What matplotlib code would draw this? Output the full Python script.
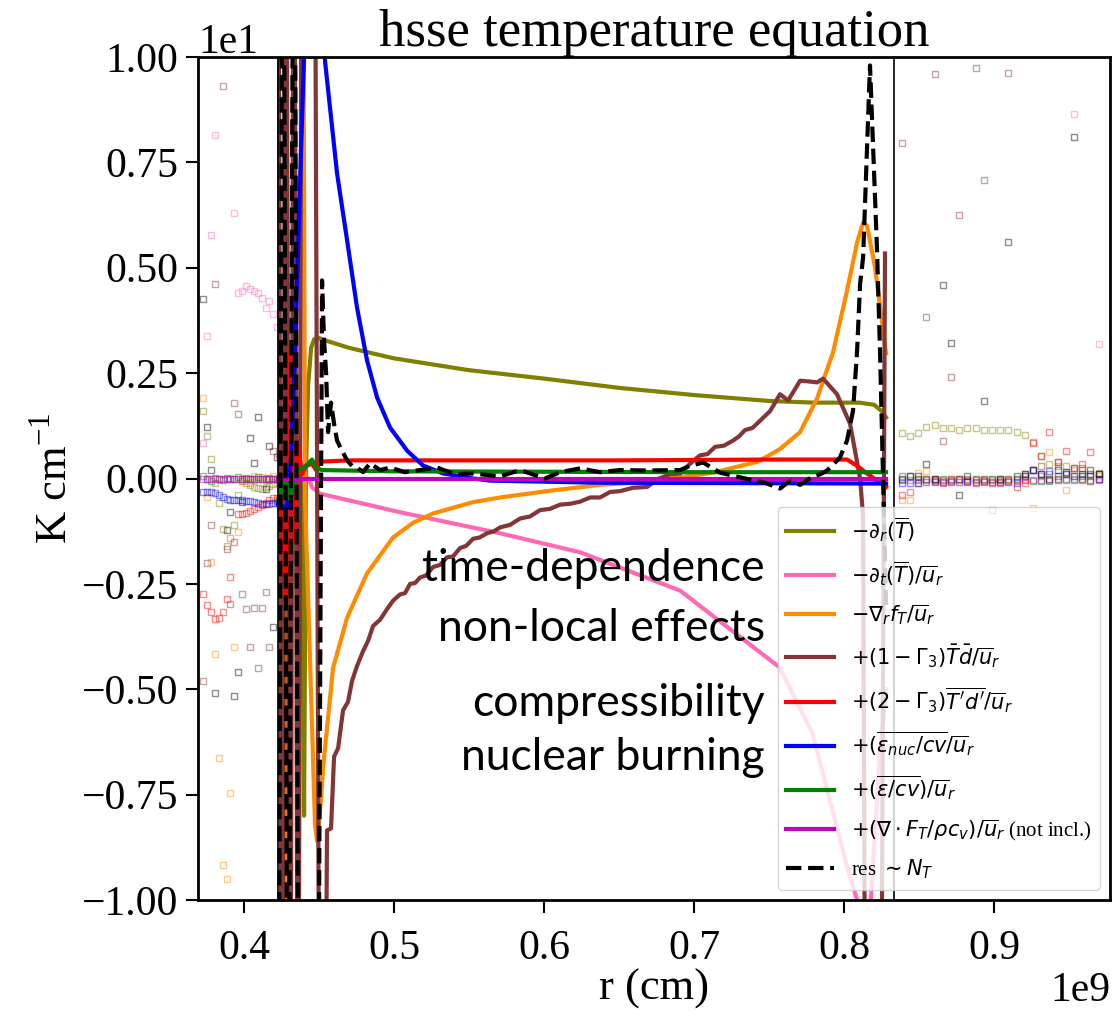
import matplotlib
matplotlib.use("Agg")
import matplotlib.pyplot as plt
import numpy as np

plt.rcParams["font.family"] = ["Liberation Serif", "DejaVu Serif"]
plt.rcParams["mathtext.fontset"] = "dejavusans"

# radius in units of 1e9 cm, terms in K/cm
# ---- lines inside the convection zone ----
olive_r = [0.4227, 0.4387, 0.44, 0.4413, 0.4427, 0.4447, 0.4467, 0.449, 0.452, 0.47, 0.5,
           0.55, 0.6, 0.65, 0.7, 0.75, 0.78, 0.81, 0.82, 0.825, 0.828]
olive_v = [0.0, 0.0, -8.0, 0.2, 2.2, 3.1, 3.3, 3.35, 3.3, 3.1, 2.85,
           2.57, 2.37, 2.15, 1.98, 1.84, 1.8, 1.8, 1.75, 1.6, 1.45]

pink_r = [0.4227, 0.4267, 0.4293, 0.4333, 0.4373, 0.4433, 0.4453, 0.4507, 0.504, 0.5707,
          0.624, 0.6907, 0.757, 0.779, 0.802, 0.8087, 0.8127, 0.8173, 0.824, 0.828]
pink_v = [0.5, 0.0, -20, -20, 0.0, 0.0, -0.21, -0.36, -0.8, -1.3,
          -1.75, -2.66, -4.48, -6.05, -9.2, -10.0, -11.0, -10.3, -6.5, -5.0]

orange_r = [0.4227, 0.4267, 0.4293, 0.4387, 0.4407, 0.4473, 0.4487, 0.4513, 0.4527, 0.4593,
            0.4687, 0.482, 0.4993, 0.5127, 0.526, 0.5527, 0.5707, 0.604, 0.6373, 0.6687,
            0.7127, 0.7427, 0.7573, 0.7707, 0.782, 0.7927, 0.802, 0.8087, 0.8127, 0.8153,
            0.8207, 0.828]
orange_v = [-20, -20, 20, 20, -0.5, -8.2, -8.6, -7.6, -6.85, -4.5,
            -3.3, -2.25, -1.4, -1.05, -0.83, -0.56, -0.45, -0.29, -0.15, -0.08,
            0.14, 0.4, 0.7, 1.1, 1.9, 3.0, 4.46, 5.6, 6.07, 6.0,
            5.0, 2.97]

brown_r = [0.4227, 0.4253, 0.428, 0.4307, 0.4333, 0.436, 0.4387, 0.4413, 0.4467, 0.4507,
           0.4533, 0.4553, 0.458, 0.46, 0.4627, 0.466, 0.4693, 0.472, 0.4753, 0.4793,
           0.4827, 0.486, 0.4907, 0.4953, 0.4993, 0.504, 0.5073, 0.5107, 0.514, 0.5173,
           0.5213, 0.526, 0.5307, 0.5353, 0.5393, 0.544, 0.548, 0.5527, 0.557, 0.562,
           0.5667, 0.5707, 0.5773, 0.584, 0.5907, 0.5973, 0.604, 0.6107, 0.6173, 0.624,
           0.6307, 0.6373, 0.644, 0.6507, 0.6593, 0.6687, 0.6767, 0.684, 0.6907, 0.6973,
           0.704, 0.709, 0.714, 0.72, 0.726, 0.73, 0.734, 0.739, 0.744, 0.7507,
           0.7573, 0.7627, 0.7707, 0.7773, 0.782, 0.786, 0.7953, 0.804, 0.8107, 0.8127,
           0.8147, 0.824, 0.8273]
brown_v = [20, -20, 20, -20, 20, -20, 20, 20, 20, -20,
           -20, -8.35, -8.3, -6.6, -6.4, -5.5, -5.3, -4.8, -4.45, -4.1,
           -3.85, -3.5, -3.35, -3.1, -2.9, -2.75, -2.72, -2.5, -2.48, -2.35,
           -2.3, -2.1, -2.05, -1.87, -1.85, -1.65, -1.6, -1.43, -1.4, -1.3,
           -1.25, -1.16, -1.1, -0.95, -0.9, -0.75, -0.72, -0.62, -0.6, -0.55,
           -0.45, -0.45, -0.32, -0.3, -0.22, -0.2, 0.0, 0.1, 0.12, 0.35,
           0.55, 0.58, 0.75, 0.78, 0.9, 1.0, 1.15, 1.2, 1.37, 1.6,
           2.0, 1.85, 2.32, 2.3, 2.28, 2.37, 2.0, 1.3, 0.0, -0.9,
           -20, -20, 5.34]

red_r = [0.4227, 0.4253, 0.428, 0.4307, 0.4333, 0.436, 0.4387, 0.4413, 0.4453, 0.448,
         0.4507, 0.47, 0.55, 0.65, 0.75, 0.802, 0.8087, 0.8153, 0.822, 0.828]
red_v = [-0.6, -1.0, -3.0, 3.0, -1.5, 0.8, 0.1, 0.3, 0.35, 0.2,
         0.4, 0.43, 0.43, 0.43, 0.45, 0.45, 0.3, 0.12, -0.05, -0.2]

blue_r = [0.4227, 0.4253, 0.4287, 0.4313, 0.434, 0.4373, 0.44, 0.4453, 0.4507, 0.454,
          0.4573, 0.462, 0.4687, 0.4753, 0.482, 0.4887, 0.4973, 0.5087, 0.5193, 0.5327,
          0.5527, 0.564, 0.637, 0.828]
blue_v = [-0.6, -0.65, -0.7, 0.5, 3.0, 7.0, 10.0, 14.0, 12.5, 9.9,
          8.8, 7.24, 5.65, 4.06, 2.8, 1.92, 1.21, 0.66, 0.31, 0.12,
          0.0, -0.05, -0.1, -0.12]

green_r = [0.4227, 0.428, 0.4307, 0.436, 0.4413, 0.4453, 0.448, 0.452, 0.5, 0.6, 0.7, 0.8, 0.828]
green_v = [-0.5, 0.0, -0.5, 0.2, 0.3, 0.45, 0.25, 0.2, 0.17, 0.16, 0.15, 0.15, 0.15]

purple_r = [0.4227, 0.5, 0.6, 0.7, 0.8, 0.828]
purple_v = [-0.02, -0.02, -0.02, -0.02, -0.02, -0.02]

res_r = [0.4227, 0.426, 0.4293, 0.4333, 0.4367, 0.4487, 0.452, 0.4533,
         0.4547, 0.456, 0.458, 0.46, 0.462, 0.4653, 0.4687, 0.472, 0.4753, 0.4793,
         0.484, 0.4907, 0.4973, 0.5073, 0.5153, 0.5287, 0.5407, 0.5527, 0.5707, 0.584,
         0.6007, 0.6107, 0.624, 0.6373, 0.6507, 0.6687, 0.6907, 0.6973, 0.706, 0.7173,
         0.734, 0.7473, 0.7573, 0.764, 0.7707, 0.7793, 0.784, 0.7887, 0.7973, 0.802,
         0.806, 0.8087, 0.8107, 0.8127, 0.8173, 0.822, 0.824, 0.8253, 0.8267, 0.828]
res_v = [-20, 20, -20, 20, -20, -20, 4.7, 3.3,
         2.5, 1.1, 1.8, 1.3, 0.9, 0.66, 0.43, 0.3, 0.26, 0.15,
         0.36, 0.2, 0.26, 0.15, 0.19, 0.26, 0.1, 0.12, 0.05, 0.2,
         0.0, 0.15, 0.24, 0.15, 0.2, 0.19, 0.2, 0.3, 0.38, 0.14,
         0.0, -0.1, -0.24, -0.05, -0.15, 0.05, 0.1, 0.19, 0.5, 0.9,
         1.61, 3.03, 4.62, 5.24, 9.8, 5.4, 3.0, 1.07, -1.0, -3.0]

# ---- points outside the convection zone ----
r_left = np.linspace(0.3727, 0.4221, 20)
r_right = np.linspace(0.8385, 0.9697, 25)

olive_left = [1.61, 1.02, 0.47, -0.1, -0.57, -1.19, -1.61, -1.4, -1.1, -0.38,
              -0.05, -0.1, -0.15, -0.2, -0.22, -0.24, -0.2, -0.18, -0.12, -0.1]
pink_left = [0.85, 3.39, 5.77, 8.14, 13, 14, 12, 11, 6.31, 4.41,
             4.46, 4.56, 4.5, 4.44, 4.41, 4.29, 4.04, 4.22, 3.91, 3.6]
orange_left = [1.92, -0.45, -1.97, -4.16, -6.63, -9.18, -9.5, -7.45, -4.0, -1.26,
               -0.05, 0.0, -0.1, 0.05, 0.0, 0.03, -0.02, 0.0, 0.05, 0.0]
brown_left = [-4.8, -2.0, -1.11, 4.62, 13, 9.32, -1.67, -2.97, 1.78, 1.54,
              -2.73, -3.1, -4.0, -3.08, -4.5, -3.08, -2.7, -4.0, 0.66, -0.5]
red_left = [-2.73, -3.0, -3.17, -3.33, -3.3, -3.16, -2.85, -2.34, -1.5, -0.84,
            -0.84, -0.83, -0.78, -0.72, -0.68, -0.64, -0.58, -0.52, -0.47, -0.47]
blue_left = [-0.32, -0.32, -0.33, -0.35, -0.39, -0.44, -0.48, -0.5, -0.51, -0.52,
             -0.52, -0.53, -0.54, -0.55, -0.57, -0.6, -0.6, -0.6, -0.58, -0.57]
green_left = [0.05, 0.0, -0.05, 0.02, 0.0, -0.03, 0.02, 0.0, -0.02, 0.03,
              0.0, 0.02, -0.02, 0.0, 0.03, 0.0, -0.02, 0.02, 0.0, 0.0]
purple_left = [-0.02] * 20
res_left = [4.27, 1.21, 0.19, -5.08, 13, -13, -1.23, -0.8, -5.17, -4.6,
            -0.55, 13, 0.97, 0.36, 1.47, -13, -0.24, 0.78, -3.53, 0.5]

olive_right = [1.07, 1.02, 1.07, 1.22, 1.26, 1.2, 1.2, 1.16, 1.2, 1.2, 1.16, 1.16, 1.16,
               1.16, 1.11, 1.04, 0.86, 0.53, 0.35, 0.29, 0.29, 0.21, 0.2, 0.1, 0.13]
pink_right = [-13, -13, -13, -13, -13, -13, -13, -13, -13, -13, -13, -13, -13,
              -13, -13, 0.0, -13, 0.05, -13, -13, -13, 8.64, -13, -13, 3.18]
orange_right = [-0.52, -0.52, 0.12, 0.17, 0.0, -0.05, 0.0, 0.0, -0.05, 0.0, 0.0, 0.0, -0.05,
                0.0, 0.0, -0.02, -0.7, 0.05, 0.62, 0.0, -0.28, 0.05, 0.0, -0.05, 0.05]
brown_right = [7.95, 13, 13, 3.84, 9.6, 0.9, 2.4, 6.26, 13, 9.73, 7.09, 13, 13,
               9.63, 13, 0.1, 0.2, 0.3, 0.1, 0.38, 0.1, 0.26, 0.24, 0.1, 0.0]
red_right = [-0.38, -0.33, -0.1, 0.0, -0.05, -0.1, -0.05, 0.0, -0.05, -0.1, -0.05, -0.1, -0.1,
             -0.05, -0.2, -0.1, 0.85, 0.53, 1.11, 0.38, 0.66, 0.24, 0.35, 0.62, 0.1]
blue_right = [-0.1, -0.1, -0.1, -0.08, -0.08, -0.08, -0.08, -0.08, -0.08, -0.08, -0.08, -0.08,
              -0.08, -0.08, -0.1, 0.07, 0.21, 0.1, 0.17, 0.05, 0.1, 0.05, 0.05, 0.05, 0.0]
green_right = [0.05, 0.05, 0.0, 0.0, 0.0, 0.0, 0.0, 0.0, 0.0, 0.0, 0.0, 0.0, 0.0,
               0.0, 0.0, 0.07, -0.05, -0.05, -0.05, 0.0, 0.0, 0.0, 0.0, -0.05, 0.1]
purple_right = [-0.03] * 25
res_right = [0.0, 0.05, 0.05, 0.35, 0.0, 4.58, 3.22, -0.4, 0.05, 13, 1.85, -0.75, 0.0,
             5.62, 0.05, 0.1, 0.2, 0.1, 0.0, 0.2, 0.15, 8.1, 0.1, 0.2, 0.1]

labels = [
    r"$-\partial_r (\overline{T})$",
    r"$-\partial_t (\overline{T}) / \overline{u}_r$",
    r"$-\nabla_r f_T / \overline{u}_r$",
    r"$+(1-\Gamma_3) \bar{T} \bar{d} / \overline{u}_r$",
    r"$+(2-\Gamma_3) \overline{T'd'} / \overline{u}_r$",
    r"$+(\overline{\varepsilon_{nuc} / cv} / \overline{u}_r$",
    r"$+(\overline{\varepsilon / cv}) / \overline{u}_r$",
    r"$+(\nabla \cdot F_T / \rho c_v) / \overline{u}_r$ (not incl.)",
    r"res $\sim N_T$",
]
colors = ["olive", "hotpink", "darkorange", "#843535", "red", "blue", "green", "m", "k"]

lines = [(olive_r, olive_v), (pink_r, pink_v), (orange_r, orange_v), (brown_r, brown_v),
         (red_r, red_v), (blue_r, blue_v), (green_r, green_v), (purple_r, purple_v),
         (res_r, res_v)]
left = [olive_left, pink_left, orange_left, brown_left, red_left, blue_left,
        green_left, purple_left, res_left]
right = [olive_right, pink_right, orange_right, brown_right, red_right, blue_right,
         green_right, purple_right, res_right]

fig = plt.figure(figsize=(11.14, 10.17), dpi=100)
ax = fig.add_axes([198 / 1114, 1 - 900 / 1017, 912 / 1114, 843 / 1017])

for (rr, vv), sl, sr, c, lab in zip(lines, left, right, colors, labels):
    ls = "--" if c == "k" else "-"
    ax.plot(np.array(rr) * 1e9, vv, ls, color=c, lw=3.0, label=lab)
    for rs, vs in ((r_left, sl), (r_right, sr)):
        ax.plot(rs * 1e9, vs, "s", mfc="none", mec=c, ms=3.8, mew=1.0, alpha=0.45)

ax.axvline(0.4227e9, color="k", lw=1.2)
ax.axvline(0.8333e9, color="k", lw=1.2)

ax.set_xlim(0.3693e9, 0.9773e9)
ax.set_ylim(-10, 10)
ax.set_xticks(np.array([0.4, 0.5, 0.6, 0.7, 0.8, 0.9]) * 1e9)
ax.set_yticks([-10, -7.5, -5, -2.5, 0, 2.5, 5, 7.5, 10])
ax.ticklabel_format(axis="x", style="sci", scilimits=(9, 9))
ax.ticklabel_format(axis="y", style="sci", scilimits=(0, 0))
ax.tick_params(labelsize=30, length=9, width=1.5)
ax.tick_params(axis="x", pad=12)
ax.tick_params(axis="y", pad=5)
ax.xaxis.get_offset_text().set_fontsize(30)
ax.yaxis.get_offset_text().set_fontsize(30)
for sp in ax.spines.values():
    sp.set_linewidth(2)

ax.set_title("hsse temperature equation", fontsize=38)
ax.set_xlabel("r (cm)", fontsize=32, labelpad=1)
ax.set_ylabel(r"K cm$^{\mathregular{-1}}$", fontsize=32)

ax.legend(loc="lower right", fontsize=15, handlelength=2.3, labelspacing=0.72, framealpha=0.8)

notes = [("time-dependence", -2.13), ("non-local effects", -3.56),
         ("compressibility", -5.34), ("nuclear burning", -6.62)]
for txt, yy in notes:
    ax.text(0.7473e9, yy, txt, ha="right", va="center", fontsize=32,
            family=["Lato", "DejaVu Sans"], zorder=10)

fig.savefig("out.png", dpi=100)
